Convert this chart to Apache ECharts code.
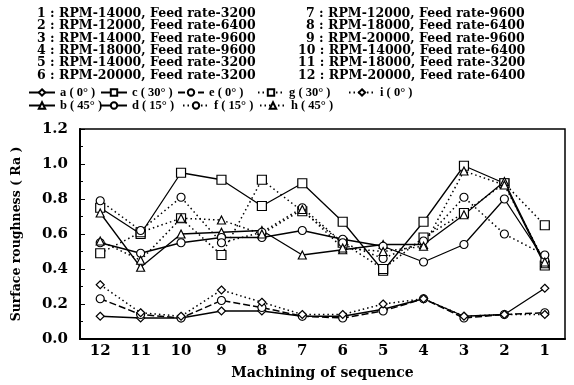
<!DOCTYPE html>
<html><head><meta charset="utf-8">
<script src="https://cdn.jsdelivr.net/npm/echarts@6/dist/echarts.min.js"></script>
<style>html,body{margin:0;padding:0;background:#fff}#c{width:574px;height:385px}</style>
</head><body><div id="c"></div>
<script>
const categories = ['12','11','10','9','8','7','6','5','4','3','2','1'];
const conditionsLeft = ['1 : RPM-14000, Feed rate-3200','2 : RPM-12000, Feed rate-6400','3 : RPM-14000, Feed rate-9600','4 : RPM-18000, Feed rate-9600','5 : RPM-14000, Feed rate-3200','6 : RPM-20000, Feed rate-3200'];
const conditionsRight = ['7 : RPM-12000, Feed rate-9600','8 : RPM-18000, Feed rate-6400','9 : RPM-20000, Feed rate-9600','10 : RPM-14000, Feed rate-6400','11 : RPM-18000, Feed rate-3200','12 : RPM-20000, Feed rate-6400'];
const seriesA = [0.13,0.12,0.12,0.16,0.16,0.13,0.13,0.17,0.23,0.13,0.14,0.29];
const seriesB = [0.72,0.41,0.60,0.61,0.62,0.48,0.51,0.54,0.54,0.71,0.90,0.43];
const seriesC = [0.75,0.60,0.95,0.91,0.76,0.89,0.67,0.39,0.67,0.99,0.89,0.42];
const seriesD = [0.55,0.49,0.55,0.58,0.58,0.62,0.57,0.53,0.44,0.54,0.80,0.45];
const seriesE = [0.23,0.14,0.12,0.22,0.18,0.13,0.12,0.16,0.23,0.12,0.14,0.15];
const seriesF = [0.79,0.62,0.81,0.55,0.61,0.75,0.55,0.46,0.56,0.81,0.60,0.48];
const seriesG = [0.49,0.61,0.69,0.48,0.91,0.73,0.55,0.40,0.58,0.72,0.89,0.65];
const seriesH = [0.56,0.45,0.69,0.68,0.60,0.74,0.52,0.50,0.53,0.96,0.88,0.44];
const seriesI = [0.31,0.15,0.13,0.28,0.21,0.14,0.14,0.20,0.23,0.13,0.14,0.14];
const yTicks = ['0.0','0.2','0.4','0.6','0.8','1.0','1.2'];

const FONT = '"DejaVu Serif","Liberation Serif",serif';
const LFONT = '"Liberation Serif","Times New Roman",serif';
const defs = [
  {name:'a ( 0° )', data:seriesA, symbol:'diamond', type:'solid', lx:23, ly:81},
  {name:'c ( 30° )', data:seriesC, symbol:'rect', type:'solid', lx:95, ly:81},
  {name:'e ( 0° )', data:seriesE, symbol:'circle', type:[7,3], lx:172, ly:81},
  {name:'g ( 30° )', data:seriesG, symbol:'rect', type:[1.5,3], lx:252, ly:81},
  {name:'i ( 0° )', data:seriesI, symbol:'diamond', type:[1.5,3], lx:343, ly:81},
  {name:'b ( 45° )', data:seriesB, symbol:'triangle', type:'solid', lx:23, ly:94},
  {name:'d ( 15° )', data:seriesD, symbol:'circle', type:'solid', lx:95, ly:94},
  {name:'f ( 15° )', data:seriesF, symbol:'circle', type:[1.5,3], lx:177, ly:94},
  {name:'h ( 45° )', data:seriesH, symbol:'triangle', type:[1.5,3], lx:254, ly:94}
];

const series = defs.map(d => ({
  name: d.name, type: 'line', data: d.data,
  symbol: d.symbol, symbolSize: d.symbol==='rect'?9:8,
  lineStyle: {color:'#000', width: d.type==='solid'?1.3:1.5, type: d.type},
  itemStyle: {color:'#fff', borderColor:'#000', borderWidth:1.2},
  emphasis: {disabled:true}, animation:false
}));

const legends = defs.map(d => ({
  data:[d.name], left:d.lx, top:d.ly, itemWidth:26, itemHeight:8, itemGap:4,
  textStyle:{fontFamily:LFONT, fontWeight:'bold', fontSize:12.5, color:'#000'},
  inactiveColor:'#000', selectedMode:false
}));

const graphics = [];
conditionsLeft.forEach((t,i)=>graphics.push({type:'text', left:37, top:7+i*12.4, style:{text:t, font:'bold 12.5px '+FONT, fill:'#000'}}));
conditionsRight.forEach((t,i)=>graphics.push({type:'text', left:306 - (i>=3?8:0), top:7+i*12.4, style:{text:t, font:'bold 12.5px '+FONT, fill:'#000'}}));

const chart = echarts.init(document.getElementById('c'), null, {renderer:'canvas'});
chart.setOption({
  animation:false,
  backgroundColor:'#fff',
  graphic: graphics,
  legend: legends,
  grid:{left:80, right:9, top:129, bottom:40, show:true, borderColor:'#000', borderWidth:1.5},
  xAxis:{type:'category', data:categories, boundaryGap:true,
    name:'Machining of sequence', nameLocation:'middle', nameGap:27,
    nameTextStyle:{fontFamily:FONT, fontWeight:'bold', fontSize:14, color:'#000'},
    axisLine:{lineStyle:{color:'#000', width:2}},
    axisTick:{inside:true, length:4, alignWithLabel:false, lineStyle:{color:'#000'}},
    axisLabel:{fontFamily:FONT, fontWeight:'bold', fontSize:15, color:'#000', margin:5}},
  yAxis:{type:'value', min:0, max:1.2, interval:0.2,
    name:'Surface roughness ( Ra )', nameLocation:'middle', nameGap:57, nameRotate:90,
    nameTextStyle:{fontFamily:FONT, fontWeight:'bold', fontSize:12.5, color:'#000'},
    axisLine:{show:true, lineStyle:{color:'#000', width:2}},
    axisTick:{show:true, inside:true, length:5, lineStyle:{color:'#000'}},
    minorTick:{show:true, splitNumber:2, length:3},
    splitLine:{show:false},
    axisLabel:{fontFamily:FONT, fontWeight:'bold', fontSize:15, color:'#000', margin:12,
      formatter:(v)=>yTicks[Math.round(v/0.2)]}},
  series: series
});
</script></body></html>
